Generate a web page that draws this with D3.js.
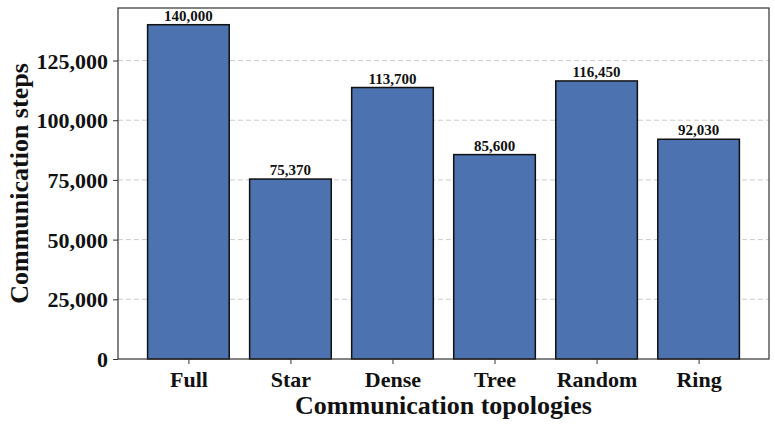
<!DOCTYPE html>
<html lang="en">
<head>
  <meta charset="UTF-8">
  <title>Communication steps</title>
  <script src="https://cdn.jsdelivr.net/npm/d3@7"></script>
  <style>
    body { margin: 0; background: #fff; }
    text { font-family: "Liberation Serif", "Times New Roman", serif; font-weight: bold; }
  </style>
</head>
<body>
  <script>
    const topologies = ["Full", "Star", "Dense", "Tree", "Random", "Ring"];
    const steps = [140000, 75370, 113700, 85600, 116450, 92030];
    const yTicks = [0, 25000, 50000, 75000, 100000, 125000];

    const W = 775, H = 426;
    const margin = { top: 8, right: 6, bottom: 67, left: 118 };
    const width = W - margin.left - margin.right;
    const height = H - margin.top - margin.bottom;

    const svg = d3.select("body").append("svg")
      .attr("width", W)
      .attr("height", H);

    const g = svg.append("g")
      .attr("transform", `translate(${margin.left},${margin.top})`);

    // matplotlib-like: bar width 0.8, 5% x margins
    const n = topologies.length;
    const x = d3.scaleLinear()
      .domain([-0.4 - 0.05 * (n - 0.2), n - 0.6 + 0.05 * (n - 0.2)])
      .range([0, width]);
    const y = d3.scaleLinear()
      .domain([0, d3.max(steps) * 1.05])
      .range([height, 0]);

    const fmt = d3.format(",");

    // grid
    g.append("g")
      .selectAll("line")
      .data(yTicks.slice(1))
      .enter().append("line")
      .attr("x1", 0).attr("x2", width)
      .attr("y1", d => y(d)).attr("y2", d => y(d))
      .attr("stroke", "#cccccc")
      .attr("stroke-width", 1)
      .attr("stroke-dasharray", "5,3");

    const data = topologies.map((t, i) => ({ t, i, v: steps[i] }));

    g.selectAll("rect.bar")
      .data(data)
      .enter().append("rect")
      .attr("class", "bar")
      .attr("x", d => x(d.i - 0.4))
      .attr("y", d => y(d.v))
      .attr("width", x(0.4) - x(-0.4))
      .attr("height", d => height - y(d.v))
      .attr("fill", "#4c72b0")
      .attr("stroke", "#111")
      .attr("stroke-width", 1.5);

    g.selectAll("text.val")
      .data(data)
      .enter().append("text")
      .attr("class", "val")
      .attr("x", d => x(d.i))
      .attr("y", d => y(d.v) - 4)
      .attr("text-anchor", "middle")
      .attr("font-size", 15)
      .attr("fill", "#111")
      .text(d => fmt(d.v));

    // axes
    const xAxis = d3.axisBottom(x)
      .tickValues(d3.range(n))
      .tickFormat(i => topologies[i])
      .tickSize(5)
      .tickPadding(6);
    const yAxis = d3.axisLeft(y)
      .tickValues(yTicks)
      .tickFormat(fmt)
      .tickSize(5)
      .tickPadding(5);

    const gx = g.append("g")
      .attr("transform", `translate(0,${height})`)
      .call(xAxis);
    const gy = g.append("g").call(yAxis);

    [gx, gy].forEach(a => {
      a.select(".domain").remove();
      a.selectAll(".tick line").attr("stroke", "#333");
      a.selectAll(".tick text")
        .attr("font-size", 22)
        .attr("fill", "#111")
        .style("font-family", "'Liberation Serif', serif")
        .style("font-weight", "bold");
    });
    gy.selectAll(".tick text").attr("dy", "0.34em");
    gx.selectAll(".tick text").attr("dy", "0.75em");

    // frame
    g.append("rect")
      .attr("width", width)
      .attr("height", height)
      .attr("fill", "none")
      .attr("stroke", "#333")
      .attr("stroke-width", 1.2);

    // labels
    svg.append("text")
      .attr("x", margin.left + width / 2)
      .attr("y", 414)
      .attr("text-anchor", "middle")
      .attr("font-size", 26)
      .attr("fill", "#111")
      .text("Communication topologies");

    svg.append("text")
      .attr("transform", `translate(28,${margin.top + height / 2}) rotate(-90)`)
      .attr("text-anchor", "middle")
      .attr("font-size", 26)
      .attr("fill", "#111")
      .text("Communication steps");
  </script>
</body>
</html>
